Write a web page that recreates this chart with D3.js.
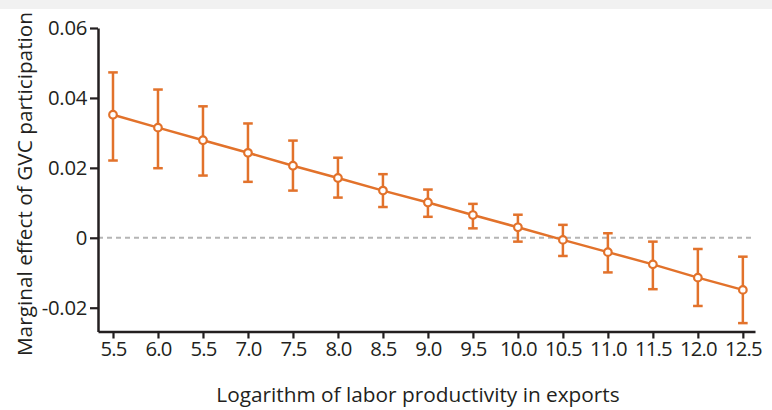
<!DOCTYPE html>
<html>
<head>
<meta charset="utf-8">
<script src="https://cdn.jsdelivr.net/npm/d3@7"></script>
<style>
  html, body { margin: 0; padding: 0; background: #fff; }
  svg { display: block; }
  text { font-family: "Open Sans", "Noto Sans", sans-serif; fill: #231f20; }
</style>
</head>
<body>
<svg id="chart" width="772" height="410"></svg>
<script>
// Tick labels along the productivity axis (as printed)
const xLabels = ["5.5", "6.0", "5.5", "7.0", "7.5", "8.0", "8.5", "9.0", "9.5",
                 "10.0", "10.5", "11.0", "11.5", "12.0", "12.5"];
// Estimated marginal effect and its confidence bounds
const effect = [0.0352, 0.0315, 0.0279, 0.0243, 0.0206, 0.0171, 0.0135, 0.0101,
                0.0065, 0.0030, -0.0006, -0.0041, -0.0076, -0.0114, -0.0149];
const upper  = [0.0473, 0.0424, 0.0376, 0.0327, 0.0278, 0.0229, 0.0182, 0.0138,
                0.0097, 0.0066, 0.0037, 0.0013, -0.0011, -0.0032, -0.0054];
const lower  = [0.0221, 0.0199, 0.0178, 0.0160, 0.0135, 0.0115, 0.0088, 0.0060,
                0.0027, -0.0011, -0.0052, -0.0099, -0.0147, -0.0195, -0.0244];
const yTicks = [-0.02, 0, 0.02, 0.04, 0.06];
const yTickLabels = ["-0.02", "0", "0.02", "0.04", "0.06"];

const orange = "#e2722b";
const ink = "#231f20";
const tickFont = 20.3;
const titleFont = 20.8;

const svg = d3.select("#chart");

// thin grey band across the top edge, with the tail of the heading above it
svg.append("rect").attr("x", 0).attr("y", 0).attr("width", 772).attr("height", 9)
  .attr("fill", "#f1f1f1");
svg.append("text").attr("x", -1).attr("y", -4).attr("font-size", 19).text("g");

const points = xLabels.map((lab, i) => ({ i, lab, v: effect[i], hi: upper[i], lo: lower[i] }));

const x = d3.scaleLinear().domain([-1 / 3, xLabels.length - 1 + 0.27]).range([98, 755]);
const y = d3.scaleLinear().domain([-0.0268, 0.06]).range([331.5, 28]);

// zero reference line
svg.append("line")
  .attr("x1", x.range()[0]).attr("x2", x.range()[1])
  .attr("y1", y(0)).attr("y2", y(0))
  .attr("stroke", "#b5b5b5").attr("stroke-width", 2)
  .attr("stroke-dasharray", "5,4");

// y axis
const yAxis = svg.append("g")
  .attr("transform", `translate(${x.range()[0]},0)`)
  .call(d3.axisLeft(y).tickValues(yTicks)
        .tickFormat((d, k) => yTickLabels[k]).tickSize(8).tickSizeOuter(0).tickPadding(3));
yAxis.select(".domain").attr("stroke", ink).attr("stroke-width", 2.5);
yAxis.selectAll(".tick line").attr("stroke", ink).attr("stroke-width", 2.2);
yAxis.selectAll(".tick text").attr("font-size", tickFont).attr("fill", ink)
  .attr("font-family", "'Open Sans', sans-serif").attr("letter-spacing", -0.3);

// x axis
const xAxis = svg.append("g")
  .attr("transform", `translate(0,${y.range()[0]})`)
  .call(d3.axisBottom(x).tickValues(d3.range(xLabels.length))
        .tickFormat(i => xLabels[i]).tickSize(7).tickSizeOuter(0).tickPadding(3));
xAxis.select(".domain").attr("stroke", ink).attr("stroke-width", 2.5);
xAxis.selectAll(".tick line").attr("stroke", ink).attr("stroke-width", 2.2);
xAxis.selectAll(".tick text").attr("font-size", tickFont).attr("fill", ink)
  .attr("font-family", "'Open Sans', sans-serif").attr("letter-spacing", -0.8);

// error bars
const bars = svg.append("g").attr("stroke", orange).attr("stroke-width", 2.5);
bars.selectAll("line.whisker").data(points).join("line").attr("class", "whisker")
  .attr("x1", d => x(d.i)).attr("x2", d => x(d.i))
  .attr("y1", d => y(d.hi)).attr("y2", d => y(d.lo));
bars.selectAll("line.capHi").data(points).join("line").attr("class", "capHi")
  .attr("x1", d => x(d.i) - 4.8).attr("x2", d => x(d.i) + 4.8)
  .attr("y1", d => y(d.hi)).attr("y2", d => y(d.hi));
bars.selectAll("line.capLo").data(points).join("line").attr("class", "capLo")
  .attr("x1", d => x(d.i) - 4.8).attr("x2", d => x(d.i) + 4.8)
  .attr("y1", d => y(d.lo)).attr("y2", d => y(d.lo));

// effect line
svg.append("path").datum(points)
  .attr("fill", "none").attr("stroke", orange).attr("stroke-width", 2.5)
  .attr("d", d3.line().x(d => x(d.i)).y(d => y(d.v)));

// open markers
svg.append("g").selectAll("circle").data(points).join("circle")
  .attr("cx", d => x(d.i)).attr("cy", d => y(d.v)).attr("r", 3.8)
  .attr("fill", "#fff").attr("stroke", orange).attr("stroke-width", 2.2);

// axis titles
svg.append("text")
  .attr("x", 418).attr("y", 402).attr("text-anchor", "middle")
  .attr("font-size", titleFont).text("Logarithm of labor productivity in exports");
svg.append("text")
  .attr("transform", "translate(32,184) rotate(-90)").attr("text-anchor", "middle")
  .attr("font-size", titleFont).text("Marginal effect of GVC participation");
</script>
</body>
</html>
